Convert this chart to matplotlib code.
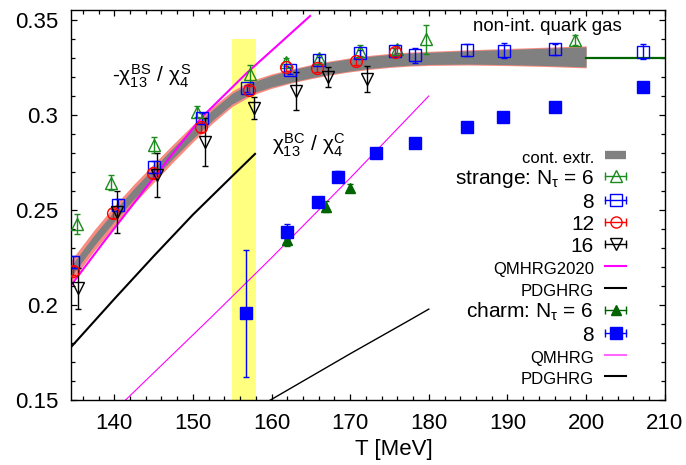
import numpy as np
import matplotlib
matplotlib.use("Agg")
import matplotlib.pyplot as plt
from matplotlib.lines import Line2D
from matplotlib.legend_handler import HandlerLine2D
from matplotlib.ticker import FixedLocator, FixedFormatter, MultipleLocator

plt.rcParams['font.family'] = ['Liberation Sans', 'DejaVu Sans']
plt.rcParams['mathtext.fontset'] = 'custom'
plt.rcParams['mathtext.rm'] = 'Liberation Sans'
plt.rcParams['mathtext.it'] = 'Liberation Sans'
plt.rcParams['mathtext.bf'] = 'Liberation Sans:bold'

# ---------------- data ----------------
# continuum extrapolation band for -chi13^BS / chi4^S
band_T = [134.5, 135, 137.5, 140, 142.5, 145, 147.5, 150, 152.5, 155, 157.5, 160,
          162.5, 165, 167.5, 170, 172.5, 175, 177.5, 180, 185, 190, 195, 200]
band_mid = [0.2178, 0.2207, 0.2345, 0.2470, 0.2587, 0.2695, 0.2802, 0.2905, 0.3002,
            0.3088, 0.3145, 0.3180, 0.3207, 0.3230, 0.3250, 0.3266, 0.3279, 0.3289,
            0.3296, 0.3300, 0.3305, 0.3307, 0.3308, 0.3308]
band_err = [0.0028, 0.0028, 0.0028, 0.0028, 0.0028, 0.0028, 0.0028, 0.0028, 0.0028,
            0.0028, 0.0029, 0.0030, 0.0032, 0.0032, 0.0032, 0.0032, 0.0032, 0.0032,
            0.0032, 0.0032, 0.0035, 0.0040, 0.0046, 0.0053]
band_err_outer = [0.0058, 0.0057, 0.0055, 0.0053, 0.0051, 0.0049, 0.0047, 0.0045, 0.0043,
                  0.0041, 0.0039, 0.0038, 0.0037, 0.0037, 0.0037, 0.0037, 0.0037, 0.0037,
                  0.0037, 0.0037, 0.0040, 0.0045, 0.0051, 0.0058]

# strange sector lattice data
s6_T = [135.2, 139.6, 145.0, 150.5, 157.2, 161.9, 166.0, 171.2, 175.9, 179.7, 198.6]
s6_v = [0.2428, 0.2645, 0.2844, 0.3019, 0.3217, 0.3280, 0.3300, 0.3340, 0.3348, 0.3400, 0.3396]
s6_e = [0.0055, 0.0040, 0.0040, 0.0030, 0.0050, 0.0020, 0.0020, 0.0030, 0.0020, 0.0075, 0.0026]

s8_T = [134.8, 140.5, 145.1, 151.1, 156.9, 162.4, 166.1, 171.2, 175.7, 178.3, 184.8, 189.6, 196.0, 207.3]
s8_v = [0.2229, 0.2528, 0.2729, 0.2984, 0.3142, 0.3237, 0.3289, 0.3326, 0.3337, 0.3317,
        0.3345, 0.3340, 0.3348, 0.3335]
s8_e = [0.0030, 0.0030, 0.0030, 0.0030, 0.0020, 0.0020, 0.0020, 0.0020, 0.0020, 0.0040,
        0.0030, 0.0040, 0.0030, 0.0040]

s12_T = [134.8, 139.9, 144.9, 151.0, 157.1, 161.9, 165.8, 170.7, 175.7]
s12_v = [0.2182, 0.2484, 0.2695, 0.2937, 0.3133, 0.3252, 0.3250, 0.3284, 0.3335]
s12_e = [0.0025, 0.0025, 0.0025, 0.0025, 0.0020, 0.0020, 0.0020, 0.0020, 0.0020]

s16_T = [135.4, 140.4, 145.5, 151.6, 157.8, 163.1, 167.2, 172.2]
s16_v = [0.2089, 0.2493, 0.2686, 0.2861, 0.3037, 0.3129, 0.3200, 0.3190]
s16_e = [0.0110, 0.0110, 0.0114, 0.0125, 0.0058, 0.0100, 0.0053, 0.0068]

# charm sector lattice data
c6_T = [161.95, 166.95, 170.0]
c6_v = [0.2344, 0.2519, 0.2616]
c6_e = [0.0030, 0.0030, 0.0020]

c8_T = [156.7, 161.95, 165.9, 168.5, 173.3, 178.3, 184.8, 189.5, 196.1, 207.3]
c8_v = [0.1957, 0.2387, 0.2545, 0.2677, 0.2800, 0.2856, 0.2940, 0.2993, 0.3045, 0.3151]
c8_e = [0.0334, 0.0040, 0.0020, 0.0030, 0.0015, 0.0010, 0.0010, 0.0010, 0.0010, 0.0010]

# hadron resonance gas curves
qm2020_T = [134.5, 138.8, 145.0, 151.1, 156.9, 160.0, 164.9]
qm2020_v = [0.2105, 0.2341, 0.2670, 0.2989, 0.3225, 0.3340, 0.3523]

pdg_s_T = [134.5, 140.0, 145.0, 150.0, 155.0, 157.9]
pdg_s_v = [0.1780, 0.2033, 0.2258, 0.2477, 0.2680, 0.2797]

qm_c_T = [141.4, 152.2, 160.0, 170.0, 180.0]
qm_c_v = [0.1500, 0.1932, 0.2250, 0.2670, 0.3102]

pdg_c_T = [159.8, 170.0, 177.6, 180.0]
pdg_c_v = [0.1500, 0.1745, 0.1923, 0.1980]

# free quark gas limit
qgas_T = [200, 210]
qgas_v = [0.33, 0.33]

# pseudo-critical temperature region
tpc_lo, tpc_hi, tpc_top = 155.0, 158.0, 0.34

xticks = [140, 150, 160, 170, 180, 190, 200, 210]
yticks = [0.15, 0.2, 0.25, 0.3, 0.35]
ytick_labels = ['0.15', '0.2', '0.25', '0.3', '0.35']

# ---------------- figure ----------------
GREEN = '#1c8a1c'
DGREEN = '#006400'
BLUE = '#0000ff'
RED = '#ff0000'
MAG = '#ff00ff'

fig = plt.figure(figsize=(6.86, 4.65), dpi=100)
ax = fig.add_axes([71 / 686, 1 - 400.3 / 465, (664.7 - 71) / 686, (400.3 - 10.3) / 465])
ax.set_xlim(134.5, 210)
ax.set_ylim(0.15, 0.3553)

ax.fill_between([tpc_lo, tpc_hi], [0.15, 0.15], [tpc_top, tpc_top],
                color='#ffff80', lw=0, zorder=0.5)

bm = np.array(band_mid)
ax.fill_between(band_T, bm - np.array(band_err_outer), bm + np.array(band_err_outer),
                color='#f88c80', lw=0, zorder=1)
ax.fill_between(band_T, bm - np.array(band_err), bm + np.array(band_err),
                color='#808080', lw=0, zorder=1.1)

ax.plot(qgas_T, qgas_v, color=DGREEN, lw=1.6, zorder=2)
ax.plot(pdg_s_T, pdg_s_v, color='black', lw=1.5, zorder=2)
ax.plot(qm2020_T, qm2020_v, color=MAG, lw=1.5, zorder=2.1)
ax.plot(qm_c_T, qm_c_v, color=MAG, lw=0.8, zorder=2)
ax.plot(pdg_c_T, pdg_c_v, color='black', lw=1.0, zorder=2)

ekw = dict(elinewidth=1.0, capsize=2.2, capthick=1.0, mew=1.0, zorder=3)
ax.errorbar(s6_T, s6_v, yerr=s6_e, fmt='^', ms=9, color=GREEN, mfc='none', **ekw)
ax.errorbar(s8_T, s8_v, yerr=s8_e, fmt='s', ms=8.5, color=BLUE, mfc='none', **ekw)
ax.errorbar(s12_T, s12_v, yerr=s12_e, fmt='o', ms=8.5, color=RED, mfc='none', **ekw)
ax.errorbar(s16_T, s16_v, yerr=s16_e, fmt='v', ms=9, color='black', mfc='none', **ekw)
ax.errorbar(c6_T, c6_v, yerr=c6_e, fmt='^', ms=6.5, color=DGREEN, mfc=DGREEN, **ekw)
ax.errorbar(c8_T, c8_v, yerr=c8_e, fmt='s', ms=8.5, color=BLUE, mfc=BLUE, **ekw)

# axes styling
for sp in ax.spines.values():
    sp.set_linewidth(1.0)
ax.xaxis.set_major_locator(FixedLocator(xticks))
ax.xaxis.set_minor_locator(MultipleLocator(2))
ax.yaxis.set_major_locator(FixedLocator(yticks))
ax.yaxis.set_major_formatter(FixedFormatter(ytick_labels))
ax.yaxis.set_minor_locator(MultipleLocator(0.01))
ax.tick_params(which='both', direction='in', top=True, right=True, width=0.9)
ax.tick_params(which='major', length=4.5, labelsize=16, pad=9)
ax.tick_params(which='minor', length=2.6)

ax.text(0.544, -0.125, 'T [MeV]', transform=ax.transAxes, ha='center', va='center',
        fontsize=16)

ax.text(144.8, 0.3204, r'-$\chi_{13}^{BS}$ / $\chi_4^{S}$', ha='center', va='center',
        fontsize=15)
ax.text(164.7, 0.2844, r'$\chi_{13}^{BC}$ / $\chi_4^{C}$', ha='center', va='center',
        fontsize=15)
ax.text(195.05, 0.3466, 'non-int. quark gas', ha='center', va='center', fontsize=13.4)

# ---------------- key ----------------
handler_map = {}


def eb_entry(color, marker, ms, filled):
    cap = Line2D([], [], color=color, lw=1.0, marker='|', ms=6, mew=1.0)
    sym = Line2D([], [], color=color, ls='none', marker=marker, ms=ms, mew=1.0,
                 mfc=color if filled else 'none', mec=color)
    handler_map[cap] = HandlerLine2D(numpoints=2, marker_pad=0.0)
    handler_map[sym] = HandlerLine2D(numpoints=1)
    return (cap, sym)


handles = [
    Line2D([], [], color='#808080', lw=6, solid_capstyle='butt'),
    eb_entry(GREEN, '^', 8, False),
    eb_entry(BLUE, 's', 8, False),
    eb_entry(RED, 'o', 8, False),
    eb_entry('black', 'v', 8, False),
    Line2D([], [], color=MAG, lw=1.5),
    Line2D([], [], color='black', lw=1.5),
    eb_entry(DGREEN, '^', 7, True),
    eb_entry(BLUE, 's', 8, True),
    Line2D([], [], color='#ff66ff', lw=1.5),
    Line2D([], [], color='black', lw=1.5),
]
labels = ['cont. extr.', r'strange: N$_\tau$ = 6', '8', '12', '16', 'QMHRG2020', 'PDGHRG',
          r'charm: N$_\tau$ = 6', '8', 'QMHRG', 'PDGHRG']
small = {0, 5, 6, 9, 10}

leg = ax.legend(handles, labels, handler_map=handler_map, loc='upper right',
                bbox_to_anchor=(0.9348, 0.6495), borderaxespad=0, borderpad=0,
                frameon=False, markerfirst=False, fontsize=15, handlelength=1.0,
                handleheight=0.94, handletextpad=0.53, labelspacing=0.096)
for i, t in enumerate(leg.get_texts()):
    if i in small:
        t.set_fontsize(12)

fig.savefig('out.png', dpi=100)
